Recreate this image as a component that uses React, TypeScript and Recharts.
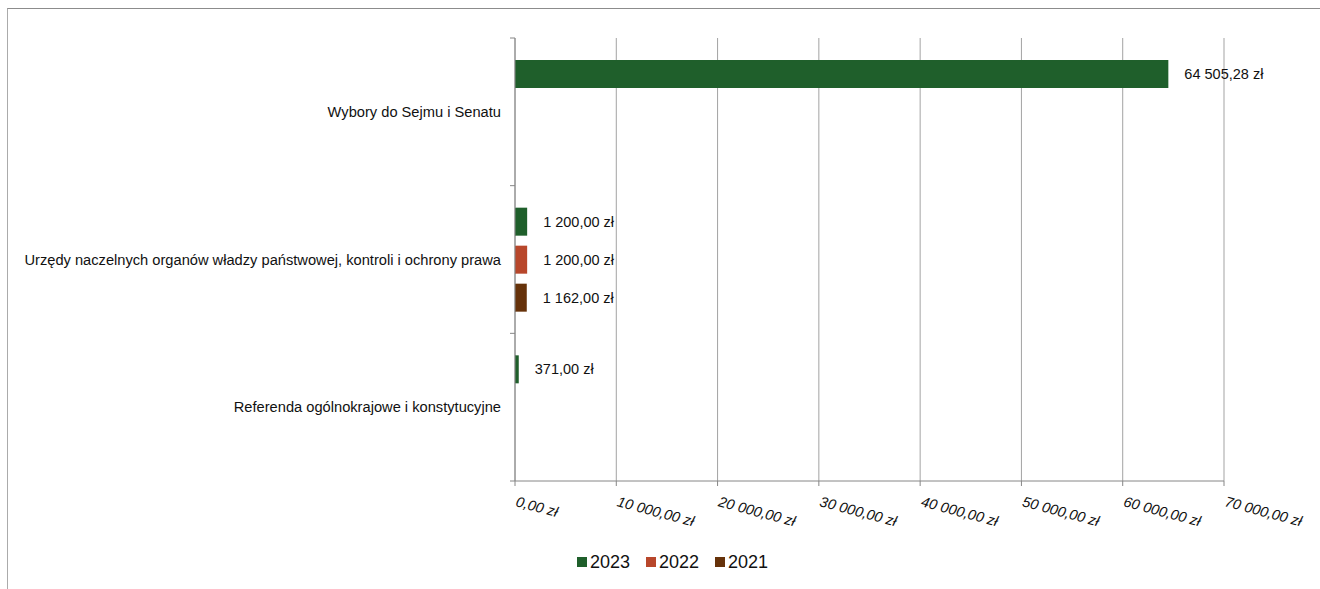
import React from 'react';
import { BarChart, Bar, XAxis, YAxis, CartesianGrid, Legend, LabelList } from 'recharts';

const categories = [
  'Wybory do Sejmu i Senatu',
  'Urzędy naczelnych organów władzy państwowej, kontroli i ochrony prawa',
  'Referenda ogólnokrajowe i konstytucyjne',
];
const values2023: (number | null)[] = [64505.28, 1200, 371];
const values2022: (number | null)[] = [null, 1200, null];
const values2021: (number | null)[] = [null, 1162, null];
const xTicks = [0, 10000, 20000, 30000, 40000, 50000, 60000, 70000];
const seriesNames = ['2023', '2022', '2021'];
const seriesColors = ['#1f5f2b', '#b8472b', '#66320a'];

const data = categories.map((c, i) => ({
  name: c,
  y2023: values2023[i],
  y2022: values2022[i],
  y2021: values2021[i],
}));
const seriesKeys = ['y2023', 'y2022', 'y2021'];

const FONT = '"Liberation Sans", Arial, sans-serif';

const fmt = (v: number) => {
  const [i, d] = Math.abs(v).toFixed(2).split('.');
  return i.replace(/\B(?=(\d{3})+(?!\d))/g, ' ') + ',' + d + ' zł';
};

const W = 1312;
const H = 580;
const M = { top: 29, right: 96, bottom: 15, left: 0 };
const LEGEND_H = 24;
const XAXIS_H = 69;
const PLOT_H = H - M.top - M.bottom - LEGEND_H - XAXIS_H;
const HALF_BAND = PLOT_H / categories.length / 2;
const TICK_SIZE = 5;
const TICK_MARGIN = 9;
const AXIS_COLOR = '#868686';

const YTick = (props: any) => {
  const { x, y, payload, index } = props;
  const axisX = x + TICK_SIZE + TICK_MARGIN;
  return (
    <g>
      <line x1={axisX - 5} x2={axisX} y1={y - HALF_BAND} y2={y - HALF_BAND} stroke={AXIS_COLOR} />
      {index === categories.length - 1 && (
        <line x1={axisX - 5} x2={axisX} y1={y + HALF_BAND} y2={y + HALF_BAND} stroke={AXIS_COLOR} />
      )}
      <text x={x} y={y} dy={5} textAnchor="end" fontSize={14.67} fontFamily={FONT} fill="#111">
        {payload.value}
      </text>
    </g>
  );
};

const XTick = (props: any) => {
  const { x, y, payload } = props;
  const by = y + 18;
  return (
    <text
      x={x}
      y={by}
      transform={`rotate(15 ${x} ${by})`}
      textAnchor="start"
      fontStyle="italic"
      fontSize={14.5}
      fontFamily={FONT}
      fill="#111"
    >
      {fmt(payload.value)}
    </text>
  );
};

const renderLegend = () => (
  <div
    style={{
      display: 'flex',
      justifyContent: 'center',
      alignItems: 'center',
      height: LEGEND_H,
      fontFamily: FONT,
      fontSize: 18,
      color: '#111',
      paddingLeft: 17,
    }}
  >
    {seriesNames.map((n, i) => (
      <span
        key={n}
        style={{ display: 'flex', alignItems: 'center', marginRight: i < seriesNames.length - 1 ? 16 : 0 }}
      >
        <span style={{ display: 'inline-block', width: 10, height: 10, background: seriesColors[i], marginRight: 3 }} />
        {n}
      </span>
    ))}
  </div>
);

export default function App() {
  return (
    <div
      style={{
        position: 'fixed',
        top: 8,
        left: 7,
        width: 1313,
        height: 581,
        borderTop: '1px solid #8c8c8c',
        borderLeft: '1px solid #ababab',
        background: '#fff',
        overflow: 'hidden',
      }}
    >
      <BarChart width={W} height={H} data={data} layout="vertical" margin={M} barSize={28} barGap={10}>
        <CartesianGrid horizontal={false} stroke="#a3a3a3" />
        <XAxis
          type="number"
          domain={[0, 70000]}
          ticks={xTicks}
          interval={0}
          height={XAXIS_H}
          tick={<XTick />}
          tickSize={5}
          tickMargin={2}
          stroke={AXIS_COLOR}
          axisLine={{ stroke: AXIS_COLOR }}
          tickLine={{ stroke: AXIS_COLOR }}
        />
        <YAxis
          type="category"
          dataKey="name"
          width={507}
          tick={<YTick />}
          tickLine={false}
          tickSize={TICK_SIZE}
          tickMargin={TICK_MARGIN}
          axisLine={{ stroke: AXIS_COLOR }}
          interval={0}
        />
        <Legend
          verticalAlign="bottom"
          height={LEGEND_H}
          content={renderLegend}
          wrapperStyle={{ left: 0, width: W }}
        />
        {seriesKeys.map((k, i) => (
          <Bar key={k} dataKey={k} name={seriesNames[i]} fill={seriesColors[i]} isAnimationActive={false}>
            <LabelList
              dataKey={k}
              position="right"
              offset={16}
              fontSize={14.5}
              fontFamily={FONT}
              fill="#111"
              formatter={(v: any) => (v == null ? '' : fmt(Number(v)))}
            />
          </Bar>
        ))}
      </BarChart>
    </div>
  );
}
